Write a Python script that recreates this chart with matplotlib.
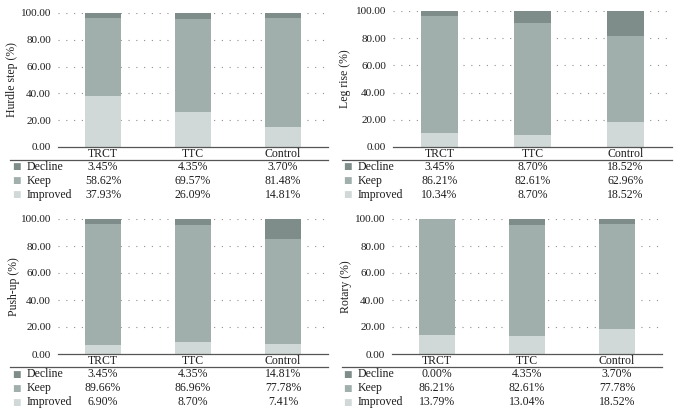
import matplotlib
matplotlib.use("Agg")
import matplotlib.pyplot as plt
import matplotlib.transforms as mtransforms
import numpy as np

plt.rcParams["font.family"] = ["Liberation Serif", "DejaVu Serif"]

# -- data --
groups = ["TRCT", "TTC", "Control"]
levels = ["Decline", "Keep", "Improved"]

hurdle_decline = [3.45, 4.35, 3.70]
hurdle_keep = [58.62, 69.57, 81.48]
hurdle_improved = [37.93, 26.09, 14.81]

legrise_decline = [3.45, 8.70, 18.52]
legrise_keep = [86.21, 82.61, 62.96]
legrise_improved = [10.34, 8.70, 18.52]

pushup_decline = [3.45, 4.35, 14.81]
pushup_keep = [89.66, 86.96, 77.78]
pushup_improved = [6.90, 8.70, 7.41]

rotary_decline = [0.00, 4.35, 3.70]
rotary_keep = [86.21, 82.61, 77.78]
rotary_improved = [13.79, 13.04, 18.52]

yticks = [0, 20, 40, 60, 80, 100]

C_DECLINE = "#7e8d8a"
C_KEEP = "#a1afac"
C_IMPROVED = "#d0d9d7"
TXT = "#1e1e1e"

W, H = 681, 416
fig = plt.figure(figsize=(W / 100, H / 100), dpi=100)


def panel(x0, x1, ytop, ybot, ylabel, ylab_x, legend_x, line_x0,
          decline, keep, improved):
    ax = fig.add_axes([x0 / W, 1 - ybot / H, (x1 - x0) / W, (ybot - ytop) / H])
    x = np.arange(len(groups))
    bw = 0.4
    ax.bar(x, improved, bw, color=C_IMPROVED, zorder=2)
    ax.bar(x, keep, bw, bottom=improved, color=C_KEEP, zorder=2)
    ax.bar(x, decline, bw, bottom=np.add(improved, keep), color=C_DECLINE, zorder=2)
    ax.set_xlim(-0.5, 2.5)
    ax.set_ylim(0, 100)
    ax.set_yticks(yticks)
    ax.set_yticklabels([f"{v:.2f}" for v in yticks], fontsize=8, color=TXT)
    ax.set_xticks([])
    ax.tick_params(axis="y", length=0, pad=5)
    for s in ["top", "right", "left"]:
        ax.spines[s].set_visible(False)
    ax.spines["bottom"].set_color("#555555")
    ax.spines["bottom"].set_linewidth(0.9)
    for v in yticks[1:]:
        ax.axhline(v, color="#8f8f8f", lw=0.8, ls=(0, (1, 6)), zorder=1)

    # y label in figure pixels
    fig.text(ylab_x / W, 1 - (ytop + ybot) / 2 / H, ylabel, rotation=90,
             ha="center", va="center", fontsize=8.5, color=TXT)

    # data table below the axis
    trans = mtransforms.blended_transform_factory(ax.transData, fig.transFigure)
    def fy(px):
        return 1 - px / H
    for i, g in enumerate(groups):
        ax.text(i, fy(ybot + 7), g, transform=trans, ha="center", va="center",
                fontsize=8.5, color=TXT)
    fig.add_artist(plt.Line2D([line_x0 / W, x1 / W], [fy(ybot + 13), fy(ybot + 13)],
                              color="#555555", lw=0.9))
    rows = [decline, keep, improved]
    cols = [C_DECLINE, C_KEEP, C_IMPROVED]
    for r, (name, vals, c) in enumerate(zip(levels, rows, cols)):
        yy = ybot + 20 + 14 * r
        fig.text(legend_x / W, fy(yy), "\u25A0", ha="center", va="center",
                 fontsize=6.5, color=c, family="DejaVu Sans")
        fig.text((legend_x + 11) / W, fy(yy), name, ha="left", va="center",
                 fontsize=8.5, color=TXT)
        for i, v in enumerate(vals):
            ax.text(i, fy(yy), f"{v:.2f}%", transform=trans, ha="center",
                    va="center", fontsize=8.5, color=TXT)
    return ax


panel(58, 328, 13, 147, "Hurdle step (%)", 12, 16, 10,
      hurdle_decline, hurdle_keep, hurdle_improved)
panel(393, 672, 11, 147, "Leg rise (%)", 345, 347, 342,
      legrise_decline, legrise_keep, legrise_improved)
panel(58, 328, 219, 354, "Push-up (%)", 14, 16, 10,
      pushup_decline, pushup_keep, pushup_improved)
panel(392, 662, 219, 354, "Rotary (%)", 346, 347, 342,
      rotary_decline, rotary_keep, rotary_improved)

fig.savefig("out.png", dpi=100)
